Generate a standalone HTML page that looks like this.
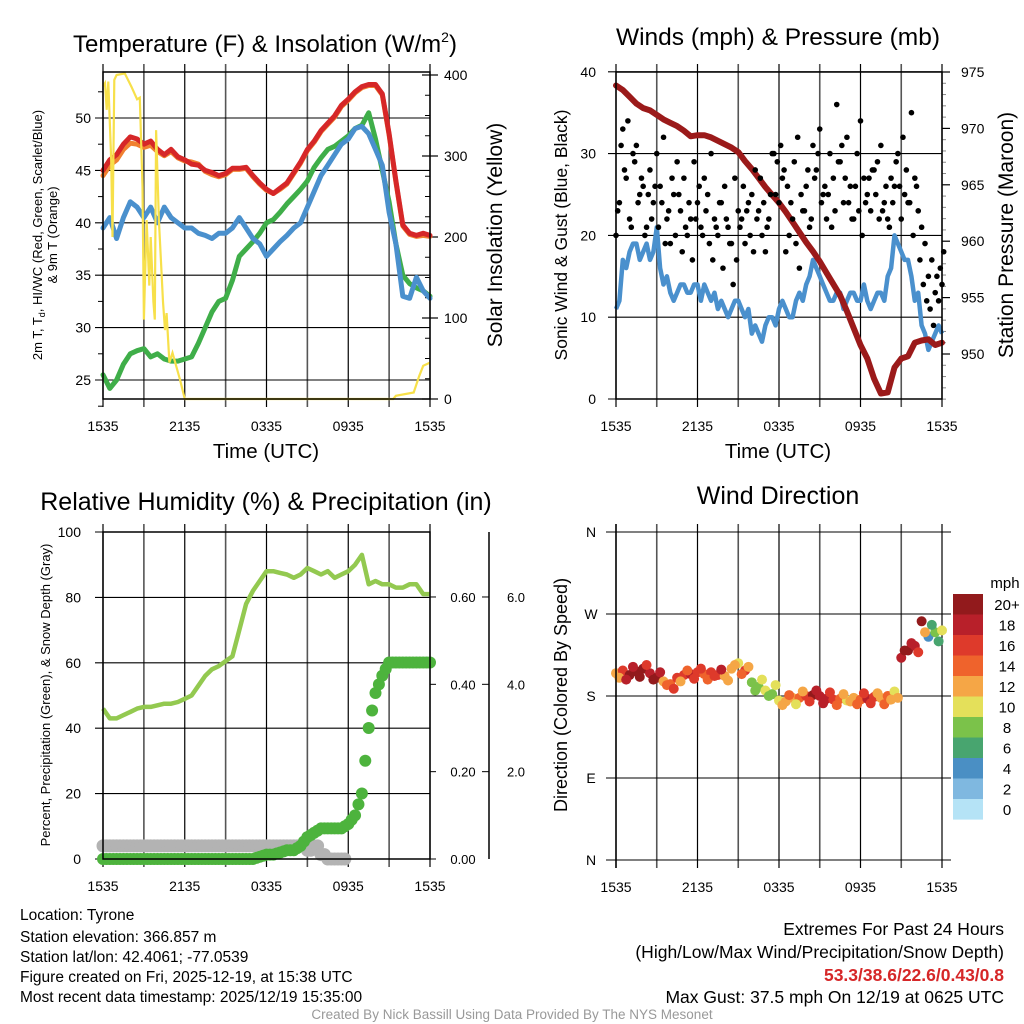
<!DOCTYPE html>
<html><head><meta charset="utf-8"><style>
html,body{margin:0;padding:0;background:#fff;}
svg{display:block;font-family:"Liberation Sans",Arial,sans-serif;}
</style></head><body>
<svg id="s" width="1024" height="1024" viewBox="0 0 1024 1024" xmlns="http://www.w3.org/2000/svg">
<rect width="1024" height="1024" fill="#fff"/>
<g id="p1"></g>
<g id="p2"></g>
<g id="p3"></g>
<g id="p4"></g>
<g font-size="15.5" fill="#000">
<text x="20" y="920">Location: Tyrone</text>
<text x="20" y="942">Station elevation: 366.857 m</text>
<text x="20" y="962">Station lat/lon: 42.4061; -77.0539</text>
<text x="20" y="982">Figure created on Fri, 2025-12-19, at 15:38 UTC</text>
<text x="20" y="1002">Most recent data timestamp: 2025/12/19 15:35:00</text>
</g>
<g font-size="17.5" text-anchor="end">
<text x="1004" y="935">Extremes For Past 24 Hours</text>
<text x="1004" y="958">(High/Low/Max Wind/Precipitation/Snow Depth)</text>
<text x="1004" y="981" fill="#d62728" font-weight="bold">53.3/38.6/22.6/0.43/0.8</text>
<text x="1004" y="1003">Max Gust: 37.5 mph On 12/19 at 0625 UTC</text>
</g>
<text x="512" y="1019" font-size="13.5" fill="#999" text-anchor="middle">Created By Nick Bassill Using Data Provided By The NYS Mesonet</text>
</svg>
<script>
// ---------- data ----------
const xTickLabels = ["1535","2135","0335","0935","1535"];
const tempT  = [45,46,46.5,47.5,48.2,48,47.5,47.8,47,46.5,47,46.3,46,45.6,45.5,45,44.8,44.5,44.7,45.2,45.2,45.3,44.5,43.8,43.2,42.8,43.3,43.8,44.8,45.8,47,47.8,48.8,49.5,50.2,51.2,51.8,52.5,53,53.2,53.2,52.3,48.5,44,39.8,39,38.8,39,38.8];
const tempOrange = [44.5,45.5,46,47,47.6,47.5,47.2,47.4,46.8,46.4,46.8,46.2,45.9,45.8,45.6,44.9,44.6,44.4,44.6,45.1,45.1,45.2,44.4,43.7,43.1,42.8,43.2,43.7,44.7,45.7,46.9,47.7,48.7,49.4,50.1,51.1,51.7,52.4,52.9,53.1,53.1,52.2,48.4,43.9,39.7,38.9,38.7,38.8,38.7];
const tempBlue = [39.5,40.5,38.5,40.5,42,41.5,40.5,41.5,40,41.5,40.5,40,39.5,39.5,39,38.8,38.5,39,39,39.5,40.5,39.5,38.5,38,36.8,37.5,38.2,38.8,39.5,40,41.5,43,44.5,45.5,46.5,47.5,48,49,49.2,48.5,47,45.5,41,38,33,32.8,34.8,33.5,32.8];
const tempGreen = [25.5,24.2,25,26.5,27.5,27.8,28,27.2,27.5,27,26.8,26.8,27,27.2,28.5,30,31.5,32.5,32.8,34.5,36.8,37.5,38.2,39,40,40.3,41,41.8,42.5,43.2,44,45.3,46.2,47,47.3,47.8,48.3,49,49.3,50.5,48,45,42,38,35,34.2,33.8,33.5,33];
const solarHours = [0,0.15,0.27,0.39,0.6,0.7,0.83,1.0,1.6,2.1,2.5,2.7,2.9,3.0,3.2,3.3,3.4,3.5,3.7,3.8,3.9,4.1,4.4,4.55,4.67,4.87,5.1,5.65,6.0,21.3,21.5,22.8,23.2,23.5,24];
const solarVals  = [386,390,357,392,295,200,394,400,402,385,370,372,262,98,221,180,140,200,120,98,332,221,120,85,106,45,57,24,0,0,4,8,28,41,45];
const pressure = [973.8,973.4,972.8,972.2,971.8,971.6,971.2,970.8,970.5,970.2,969.8,969.3,969.4,969.4,969.2,968.9,968.6,968.3,967.9,967.1,966.4,965.6,964.8,964.1,963.4,962.6,961.7,960.8,959.9,959.1,958.2,957.2,956.2,955.2,953.8,952.3,950.8,949.6,947.8,946.5,946.6,948.8,949.6,949.8,951,951.2,951.3,950.8,951];
const sonicWind = [11,17,18,19,18,17,21,14,13,13,14,13,14,14,12,11,11,11,12,10,8,8,9,10,11,11,10,13,14,17,15,13,12,13,12,13,12,12,12,13,15,20,18,17,12,9,6,8,8];
const sonicWind2 = [12,16,19,17,19,18,16,15,12,14,13,14,12,13,13,12,10,12,11,11,9,7,10,9,12,10,12,12,15,16,14,12,13,11,13,12,14,11,13,12,16,19,17,15,13,8,7,9,9];
const gusts = [20,24,33,27,22,30,31,25,26,21,28,24,30,26,32,22,19,25,29,23,27,20,22,29,24,21,27,25,30,22,20,24,26,21,19,27,23,22,19,24,25,28,23,20,18,22,30,25,24,27,18,20,22,19,16,23,26,21,31,28,33,25,22,30,27,36,29,24,32,26,22,30,34,27,25,23,28,29,31,24,22,27,26,30,22,25,24,35,27,23,21,19,15,17,13,12,14];
const gusts2 = [23,31,28,34,21,29,24,27,20,25,22,26,21,24,19,23,27,20,25,18,21,24,17,22,26,20,23,19,17,21,24,16,22,19,14,17,21,26,23,20,18,22,27,24,21,25,30,29,31,28,26,24,29,32,25,23,28,22,27,30,24,26,25,21,23,29,31,27,24,22,26,23,20,24,27,28,25,22,23,26,21,24,29,26,32,28,24,20,26,17,14,12,11,9,15,16,18];
const rh = [46,43,43,44,45,46,46.5,46.5,47,47.5,47.5,48,49,50,53,56,58,59,60.5,62,70,78,82,85,88,88,87.5,87,86,87,89,88,87,88,86,87,88,90,93,84,85,84,84,83,83,84,84,81,81];
const precip = [0,0,0,0,0,0,0,0,0,0,0,0,0,0,0,0,0,0,0,0,0,0,0,0.005,0.01,0.01,0.015,0.02,0.02,0.03,0.05,0.06,0.07,0.07,0.07,0.07,0.08,0.1,0.15,0.3,0.38,0.42,0.45,0.45,0.45,0.45,0.45,0.45,0.45];
const snowDepth = [0.3,0.3,0.3,0.3,0.3,0.3,0.3,0.3,0.3,0.3,0.3,0.3,0.3,0.3,0.3,0.3,0.3,0.3,0.3,0.3,0.3,0.3,0.3,0.3,0.3,0.3,0.3,0.3,0.3,0.3,0.2,0.3,0.1,0,0,0,null,null,null,null,null,null,null,null,null,null,null,null,null];
const windDir = [205,208,203,207,210,205,200,196,193,200,203,204,206,204,206,203,202,210,216,208,195,190,186,182,175,174,178,178,180,181,180,177,176,177,175,178,176,177,179,178,180,185,222,230,235,262,245,250,252];
const windSpd = [12,16,19,21,20,17,21,12,14,15,16,17,15,14,16,15,12,11,10,15,8,7,9,8,10,12,11,14,16,19,17,18,15,13,10,12,14,17,15,12,14,10,17,21,18,19,4,8,9];
const windDir2 = [200,198,212,201,214,198,206,192,188,196,208,199,210,198,202,209,197,214,204,212,186,198,180,192,170,181,171,185,174,186,172,184,170,182,174,171,183,172,183,171,176,178,230,238,228,250,258,240,246];
const windSpd2 = [11,18,17,20,16,21,18,13,16,12,14,15,16,13,15,17,11,12,13,11,7,9,8,10,11,13,10,12,15,17,18,16,13,11,12,13,15,16,12,13,11,12,20,18,16,12,6,5,8];
const cbarLabels = ["20+","18","16","14","12","10","8","6","4","2","0"];
const cbarColors = ["#921a1c","#b8202a","#de3a2b","#ef632c","#f5a646","#e4e05a","#7bc24a","#48a56f","#4a8fc4","#7fb8e0","#b5e3f6"];

// ---------- helpers ----------
const NS="http://www.w3.org/2000/svg";
function mk(parent,tag,attrs){const e=document.createElementNS(NS,tag);for(const k in attrs)e.setAttribute(k,attrs[k]);parent.appendChild(e);return e;}
function txt(parent,x,y,s,size,anchor,extra){const t=mk(parent,"text",Object.assign({x:x,y:y,"font-size":size,"text-anchor":anchor||"start",fill:"#000"},extra||{}));t.textContent=s;return t;}
function pathFrom(xs,ys){let d="";let pen=false;for(let i=0;i<xs.length;i++){if(ys[i]==null||isNaN(ys[i])){pen=false;continue;}d+=(pen?"L":"M")+xs[i].toFixed(1)+","+ys[i].toFixed(1);pen=true;}return d;}
function frame(g,x0,x1,y0,y1){
  for(let h=0;h<=24;h+=3){const x=x0+(x1-x0)*h/24;const l=mk(g,"line",{x1:x,x2:x,y1:y0-8,y2:y1+8,stroke:(h%6==3)?"#555":"#000","stroke-width":h%6==3?1.6:1.2});
    
    }
  for(let i=0;i<xTickLabels.length;i++){const x=x0+(x1-x0)*i/4;const t=txt(g,x,y1+32,xTickLabels[i],14,"middle");
    
    }
}
function border(g,x0,x1,y0,y1){const r=mk(g,"rect",{x:x0,y:y0,width:x1-x0,height:y1-y0,fill:"none",stroke:"#000","stroke-width":1.5});
  
  }
function hgrid(g,x0,x1,y,name){const l=mk(g,"line",{x1:x0-8,x2:x1,y1:y,y2:y,stroke:"#000","stroke-width":1.1});
  
  }
function spdColor(s){let i=Math.min(10,Math.floor((s+1)/2));return cbarColors[10-i];}

// ---------- panel 1 ----------
(function(){
 const g=document.getElementById("p1");
 const X0=103,X1=430,Y0=72,Y1=399;
 const xT=i=>X0+(X1-X0)*i/48, xH=h=>X0+(X1-X0)*h/24;
 const yT=v=>118+(50-v)*10.48, yS=v=>399-v*0.81;
 const tt=txt(g,265,52,"Temperature (F) & Insolation (W/m",24,"middle");
 
 
 const ts=mk(tt,"tspan",{"font-size":14,dy:-10});ts.textContent="2";
 const ts2=mk(tt,"tspan",{dy:10});ts2.textContent=")";
 frame(g,X0,X1,Y0,Y1);
 [25,30,35,40,45,50].forEach(v=>{hgrid(g,X0,X1,yT(v),'temp-gridline');const t=txt(g,X0-12,yT(v)+5,String(v),14,"end");
   
   });
 for(let v=22.5;v<55;v+=2.5){if(v%5)mk(g,"line",{x1:X0-5,x2:X0,y1:yT(v),y2:yT(v),stroke:"#000"});}
 [0,100,200,300,400].forEach(v=>{mk(g,"line",{x1:X1-8,x2:X1+8,y1:yS(v),y2:yS(v),stroke:"#000","stroke-width":1.2});const t=txt(g,X1+14,yS(v)+5,String(v),14,"start");
   
   });
 for(let v=25;v<415;v+=25){if(v%100)mk(g,"line",{x1:X1-5,x2:X1,y1:yS(v),y2:yS(v),stroke:"#000"});}
 const idx=tempT.map((_,i)=>xT(i));
 const series=[[tempGreen,"#3fae49","dewpoint-line"],[tempBlue,"#4a90cd","windchill-line"],[tempOrange,"#f08030","temp-9m-line"],[tempT,"#d62728","temp-2m-line"]];
 series.forEach(s=>{const p=mk(g,"path",{d:pathFrom(idx,s[0].map(yT)),fill:"none",stroke:s[1],"stroke-width":5,"stroke-linejoin":"round","stroke-linecap":"round"});
   
   });
 const sp=mk(g,"path",{d:pathFrom(solarHours.map(xH),solarVals.map(yS)),fill:"none",stroke:"#f7e04a","stroke-width":2.2});
 
 
 border(g,X0,X1,Y0,Y1);
 const xl=txt(g,266,458,"Time (UTC)",20.5,"middle");
 const yl=txt(g,0,0,"",13,"middle",{transform:"translate(42,235) rotate(-90)"});
 
 
 const a=mk(yl,"tspan",{x:0,dy:0});a.textContent="2m T, T";const b=mk(yl,"tspan",{"font-size":9,dy:3});b.textContent="d";const c=mk(yl,"tspan",{dy:-3});c.textContent=", HI/WC (Red, Green, Scarlet/Blue)";
 const d=mk(yl,"tspan",{x:0,dy:15});d.textContent="& 9m T (Orange)";
 const yr=txt(g,0,0,"Solar Insolation (Yellow)",21,"middle",{transform:"translate(502,235) rotate(-90)"});
 
 
})();

// ---------- panel 2 ----------
(function(){
 const g=document.getElementById("p2");
 const X0=616,X1=942,Y0=72,Y1=399;
 const xT=i=>X0+(X1-X0)*i/48, xQ=i=>X0+(X1-X0)*i/96;
 const yW=v=>399-v*8.18, yP=v=>72+(975-v)*11.28;
 const tt=txt(g,778,45,"Winds (mph) & Pressure (mb)",24.5,"middle");
 frame(g,X0,X1,Y0,Y1);
 [0,10,20,30,40].forEach(v=>{hgrid(g,X0,X1,yW(v),'wind-gridline');const t=txt(g,X0-20,yW(v)+5,String(v),14,"end");
   
   });
 [950,955,960,965,970,975].forEach(v=>{mk(g,"line",{x1:X1,x2:X1+8,y1:yP(v),y2:yP(v),stroke:"#000","stroke-width":1.2});const t=txt(g,X1+19,yP(v)+5,String(v),14,"start");
   
   });
 for(let v=946;v<975;v++){if(v%5)mk(g,"line",{x1:X1,x2:X1+4,y1:yP(v),y2:yP(v),stroke:"#888"});}
 const xs=[],ys=[];
 sonicWind.forEach((v,i)=>{xs.push(xT(i));ys.push(yW(v));if(i<48){xs.push(xT(i+0.5));ys.push(yW(sonicWind2[i]));}});
 const bp=mk(g,"path",{d:pathFrom(xs,ys),fill:"none",stroke:"#4a90cd","stroke-width":4.5,"stroke-linejoin":"round"});
 
 
 const pp=mk(g,"path",{d:pathFrom(pressure.map((_,i)=>xT(i)),pressure.map(yP)),fill:"none",stroke:"#9b1a1a","stroke-width":6,"stroke-linejoin":"round","stroke-linecap":"round"});
 
 
 gusts.forEach((v,i)=>{const c=mk(g,"circle",{cx:xQ(i),cy:yW(v),r:2.8,fill:"#000"});
   
   });
 gusts2.forEach((v,i)=>{const c=mk(g,"circle",{cx:xQ(i)+1.7,cy:yW(v),r:2.8,fill:"#000"});
   
   });
 border(g,X0,X1,Y0,Y1);
 const xl=txt(g,778,458,"Time (UTC)",20.5,"middle");
 const yl=txt(g,0,0,"Sonic Wind & Gust (Blue, Black)",17.5,"middle",{transform:"translate(567,235) rotate(-90)"});
 
 
 const yr=txt(g,0,0,"Station Pressure (Maroon)",21,"middle",{transform:"translate(1013,235) rotate(-90)"});
 
 
})();

// ---------- panel 3 ----------
(function(){
 const g=document.getElementById("p3");
 const X0=103,X1=430,Y0=532,Y1=859;
 const xT=i=>X0+(X1-X0)*i/48;
 const yR=v=>859-v*3.27, yPr=v=>859-v*436.7, ySd=v=>859-v*43.67;
 const tt=txt(g,266,510,"Relative Humidity (%) & Precipitation (in)",25,"middle");
 frame(g,X0,X1,Y0,Y1);
 [0,20,40,60,80,100].forEach(v=>{hgrid(g,X0,X1,yR(v),'rh-gridline');const t=txt(g,X0-22,yR(v)+5,String(v),14,"end");
   
   });
 [[0,"0.00"],[0.2,"0.20"],[0.4,"0.40"],[0.6,"0.60"]].forEach(v=>{mk(g,"line",{x1:X1,x2:X1+6,y1:yPr(v[0]),y2:yPr(v[0]),stroke:"#000"});const t=txt(g,X1+33,yPr(v[0])+5,v[1],13,"middle");
   
   });
 const ax=mk(g,"line",{x1:489,x2:489,y1:Y0,y2:Y1,stroke:"#000","stroke-width":1.5});
 [[2,"2.0"],[4,"4.0"],[6,"6.0"]].forEach(v=>{mk(g,"line",{x1:482,x2:489,y1:ySd(v[0]),y2:ySd(v[0]),stroke:"#000"});const t=txt(g,516,ySd(v[0])+5,v[1],13,"middle");
   
   });
 snowDepth.forEach((v,i)=>{if(v==null)return;[0,0.5].forEach(o=>{const c=mk(g,"circle",{cx:xT(i+o),cy:ySd(v),r:6.5,fill:"#b3b3b3"});
   
   });});
 const rp=mk(g,"path",{d:pathFrom(rh.map((_,i)=>xT(i)),rh.map(yR)),fill:"none",stroke:"#93c950","stroke-width":4.5,"stroke-linejoin":"round"});
 
 
 precip.forEach((v,i)=>{const c=mk(g,"circle",{cx:xT(i),cy:yPr(v),r:6,fill:"#4db33d"});
   
   
   if(i<48){const c2=mk(g,"circle",{cx:xT(i+0.5),cy:yPr((v+precip[i+1])/2),r:6,fill:"#4db33d"});
   
   }});
 border(g,X0,X1,Y0,Y1);
 const yl=txt(g,0,0,"Percent, Precipitation (Green), & Snow Depth (Gray)",13,"middle",{transform:"translate(50,695) rotate(-90)"});
 
 
})();

// ---------- panel 4 ----------
(function(){
 const g=document.getElementById("p4");
 const X0=616,X1=942,Y0=532,Y1=860;
 const xT=i=>X0+(X1-X0)*i/48;
 const yD=v=>860-v*(Y1-Y0)/360;
 const tt=txt(g,778,504,"Wind Direction",25,"middle");
 frame(g,X0,X1,Y0,Y1);
 [[360,"N"],[270,"W"],[180,"S"],[90,"E"],[0,"N"]].forEach(v=>{const y=yD(v[0]);mk(g,"line",{x1:X0-10,x2:X1+9,y1:y,y2:y,stroke:"#000","stroke-width":1.1});const t=txt(g,591,y+5,v[1],14,"middle");
   
   });
 windDir.forEach((v,i)=>{const c=mk(g,"circle",{cx:xT(i),cy:yD(v),r:5,fill:spdColor(windSpd[i])});
   
   });
 windDir2.forEach((v,i)=>{if(i>=48)return;const c=mk(g,"circle",{cx:xT(i+0.5),cy:yD(v),r:5,fill:spdColor(windSpd2[i])});
   
   });
 mk(g,"line",{x1:X0,x2:X0,y1:Y0-8,y2:Y1+8,stroke:"#000","stroke-width":1.5});
 const cb=mk(g,"g",{});
 txt(cb,1005,588,"mph",15,"middle");
 cbarColors.forEach((c,i)=>{const r=mk(cb,"rect",{x:953,y:594+i*20.5,width:30,height:20.6,fill:c});
   
   
   const t=txt(cb,1007,610+i*20.5,cbarLabels[i],15,"middle");
   
   });
 const yl=txt(g,0,0,"Direction (Colored By Speed)",18,"middle",{transform:"translate(567,695) rotate(-90)"});
 
 
})();
</script>
</body></html>
